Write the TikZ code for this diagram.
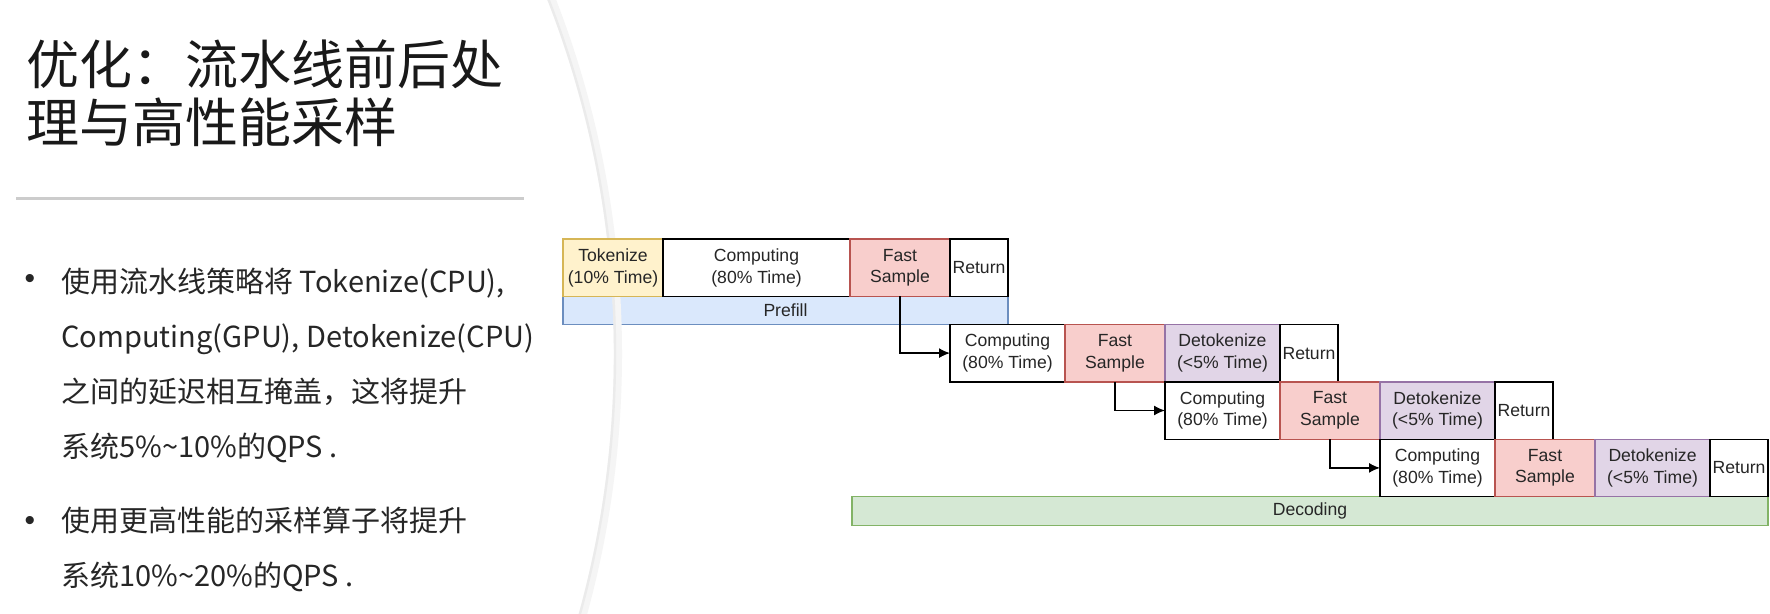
\documentclass[tikz,border=0pt]{standalone}
\usepackage{fontspec}
\newfontfamily\cjk{Noto Sans CJK SC}
\newfontfamily\diafont{Liberation Sans}
\usetikzlibrary{arrows.meta,positioning,backgrounds}
\definecolor{tokfill}{HTML}{FFF2CC}
\definecolor{tokdraw}{HTML}{D6B656}
\definecolor{fastfill}{HTML}{F8CECC}
\definecolor{fastdraw}{HTML}{B85450}
\definecolor{detokfill}{HTML}{E1D5E7}
\definecolor{detokdraw}{HTML}{9673A6}
\definecolor{prefillfill}{HTML}{DAE8FC}
\definecolor{prefilldraw}{HTML}{6C8EBF}
\definecolor{decodefill}{HTML}{D5E8D4}
\definecolor{decodedraw}{HTML}{82B366}
\definecolor{bodytext}{HTML}{262626}
\tikzset{
    raw cell/.style={rectangle, draw, line width=0.7pt, inner sep=0pt, outer sep=0pt, minimum height=28.7pt, align=center, text=black!85, font=\diafont\fontsize{8.8}{10.8}\selectfont},
    tok cell/.style={raw cell, draw=tokdraw, fill=tokfill, minimum width=50pt},
    comp cell/.style={raw cell, draw=black, fill=white, minimum width=57.5pt},
    fast cell/.style={raw cell, draw=fastdraw, fill=fastfill, minimum width=50pt},
    detok cell/.style={raw cell, draw=detokdraw, fill=detokfill, minimum width=57.5pt},
    ret cell/.style={raw cell, draw=black, fill=white, minimum width=29pt},
    stage bar/.style={raw cell, minimum height=14pt},
    title text/.style={inner sep=0pt, align=left, text=black!90, font=\cjk\fontsize{26.5}{29}\selectfont},
    body text/.style={inner sep=0pt, align=left, text=bodytext, font=\cjk\fontsize{14.5}{27.5}\selectfont},
    bullet dot/.style={inner sep=0pt, text=bodytext, font=\diafont\fontsize{15}{18}\selectfont}
}

\begin{document}
\begin{tikzpicture}[x=0.5pt, y=-0.5pt,
    flow/.style={->, line width=0.7pt, black},
    >={Latex[length=5.5pt,width=5pt]}]
    \useasboundingbox (0,0) rectangle (1770,614);
    \begin{scope}[on background layer]
        \fill[white] (0,0) rectangle (1770,614);
    \end{scope}
    % curved edge of the slide background
    \begin{scope}
        \clip (0,0) rectangle (1770,614);
        \draw[line width=4pt, black!4] (-359,354) circle [radius=488.5pt];
        \draw[line width=1.2pt, black!8] (-359,354) circle [radius=487pt];
    \end{scope}
    % left side text
    \node[title text, anchor=north west] (title) at (26,39) {优化：流水线前后处\\理与高性能采样};
    \draw[line width=1.5pt, black!20] (16,199) -- (524,199);
    \node[bullet dot] (dot1) at (30,281) {•};
    \node[body text, anchor=north west] (item1) at (61,268)
        {使用流水线策略将 Tokenize(CPU),\\Computing(GPU), Detokenize(CPU)\\之间的延迟相互掩盖，这将提升\\系统5\%\textasciitilde10\%的QPS .};
    \node[bullet dot] (dot2) at (30,523) {•};
    \node[body text, anchor=north west] (item2) at (61,507)
        {使用更高性能的采样算子将提升\\系统10\%\textasciitilde20\%的QPS .};
    % prefill row
    \node[tok cell, anchor=north west] (tok) at (563,239) {Tokenize\\(10\% Time)};
    \node[comp cell, minimum width=93.5pt, right=0pt of tok] (comp1) {Computing\\(80\% Time)};
    \node[fast cell, right=0pt of comp1] (fast1) {Fast\\Sample};
    \node[ret cell, right=0pt of fast1] (ret1) {Return};
    \begin{scope}[on background layer]
        \node[stage bar, draw=prefilldraw, fill=prefillfill, minimum width=222.5pt, anchor=north west] (prefill) at (tok.south west) {Prefill};
    \end{scope}
    % decoding rows
    \node[comp cell, anchor=north west] (comp2) at (prefill.south -| ret1.west) {Computing\\(80\% Time)};
    \node[fast cell, right=0pt of comp2] (fast2) {Fast\\Sample};
    \node[detok cell, right=0pt of fast2] (detok2) {Detokenize\\(<5\% Time)};
    \node[ret cell, right=0pt of detok2] (ret2) {Return};
    \node[comp cell, below=0pt of detok2] (comp3) {Computing\\(80\% Time)};
    \node[fast cell, right=0pt of comp3] (fast3) {Fast\\Sample};
    \node[detok cell, right=0pt of fast3] (detok3) {Detokenize\\(<5\% Time)};
    \node[ret cell, right=0pt of detok3] (ret3) {Return};
    \node[comp cell, below=0pt of detok3] (comp4) {Computing\\(80\% Time)};
    \node[fast cell, right=0pt of comp4] (fast4) {Fast\\Sample};
    \node[detok cell, right=0pt of fast4] (detok4) {Detokenize\\(<5\% Time)};
    \node[ret cell, right=0pt of detok4] (ret4) {Return};
    \begin{scope}[on background layer]
        \node[stage bar, draw=decodedraw, fill=decodefill, minimum width=458pt, minimum height=14.5pt, anchor=north east] (decoding) at (ret4.south east) {Decoding};
    \end{scope}
    \draw[flow] (fast1.south) |- (comp2.west);
    \draw[flow] (fast2.south) |- (comp3.west);
    \draw[flow] (fast3.south) |- (comp4.west);
\end{tikzpicture}
\end{document}
